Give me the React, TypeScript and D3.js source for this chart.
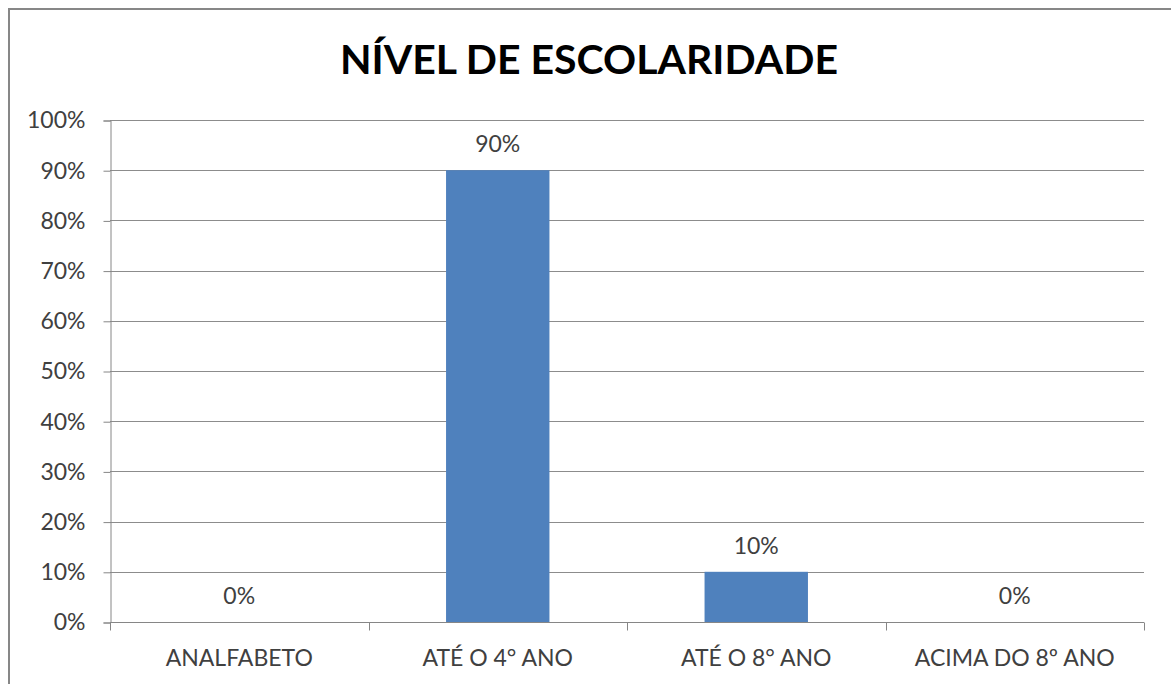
import React, { useEffect, useRef } from 'react';
import * as d3 from 'd3';

const categories = ['ANALFABETO', 'ATÉ O 4° ANO', 'ATÉ O 8° ANO', 'ACIMA DO 8º ANO'];
const values = [0, 90, 10, 0];
const yTicks = [0, 10, 20, 30, 40, 50, 60, 70, 80, 90, 100];
const title = 'NÍVEL DE ESCOLARIDADE';

export default function App() {
  const ref = useRef<SVGSVGElement>(null);

  useEffect(() => {
    const width = 1171;
    const height = 684;
    const plot = { left: 110, right: 1144, top: 120, bottom: 622 };
    const font = 'Lato, "Open Sans", sans-serif';

    const svg = d3.select(ref.current);
    svg.selectAll('*').remove();

    svg.append('rect')
      .attr('width', width)
      .attr('height', height)
      .attr('fill', '#fff');

    // chart border (only top and left visible)
    svg.append('path')
      .attr('d', `M9,${height} L9,9 L${width},9`)
      .attr('fill', 'none')
      .attr('stroke', '#878787')
      .attr('stroke-width', 2);

    const x = d3.scaleBand<string>().domain(categories).range([plot.left, plot.right]);
    const y = d3.scaleLinear().domain([0, 100]).range([plot.bottom, plot.top]);

    // gridlines
    svg.append('g')
      .selectAll('line')
      .data(yTicks.filter((d) => d > 0))
      .enter().append('line')
      .attr('x1', plot.left)
      .attr('x2', plot.right)
      .attr('y1', (d) => Math.round(y(d)) + 0.5)
      .attr('y2', (d) => Math.round(y(d)) + 0.5)
      .attr('stroke', '#8c8c8c')
      .attr('stroke-width', 1);

    // bars
    const barW = x.bandwidth() * 0.4;
    svg.append('g')
      .selectAll('rect')
      .data(values)
      .enter().append('rect')
      .attr('x', (d, i) => x(categories[i])! + (x.bandwidth() - barW) / 2)
      .attr('y', (d) => y(d))
      .attr('width', barW)
      .attr('height', (d) => y(0) - y(d))
      .attr('fill', '#4f81bd');

    // value labels
    svg.append('g')
      .selectAll('text')
      .data(values)
      .enter().append('text')
      .attr('x', (d, i) => x(categories[i])! + x.bandwidth() / 2)
      .attr('y', (d) => y(d) - 18)
      .attr('text-anchor', 'middle')
      .attr('font-family', font)
      .attr('font-size', 23)
      .attr('fill', '#404040')
      .text((d) => d + '%');

    // y axis
    const yAxis = d3.axisLeft(y).tickValues(yTicks).tickSize(7).tickPadding(18).tickFormat((d) => d + '%');
    const gy = svg.append('g')
      .attr('transform', `translate(${plot.left + 0.5},0.5)`)
      .call(yAxis);
    gy.select('.domain').attr('stroke', '#868686');
    gy.selectAll('.tick line').attr('stroke', '#868686');
    gy.selectAll('.tick text')
      .attr('font-family', font)
      .attr('font-size', 23)
      .attr('fill', '#404040');

    // x axis
    const xAxis = d3.axisBottom(x).tickSize(0).tickPadding(27);
    const gx = svg.append('g')
      .attr('transform', `translate(0,${plot.bottom + 0.5})`)
      .call(xAxis);
    gx.select('.domain').attr('d', `M${plot.left},0H${plot.right}`).attr('stroke', '#868686');
    gx.selectAll('.tick text')
      .attr('font-family', font)
      .attr('font-size', 23)
      .attr('fill', '#404040');
    gx.append('g')
      .selectAll('line')
      .data(categories.map((c) => x(c)! + x.bandwidth()).concat([plot.left]))
      .enter().append('line')
      .attr('x1', (d) => Math.round(d) + 0.5)
      .attr('x2', (d) => Math.round(d) + 0.5)
      .attr('y1', 0)
      .attr('y2', 8)
      .attr('stroke', '#868686');

    svg.append('text')
      .attr('x', 589)
      .attr('y', 74)
      .attr('text-anchor', 'middle')
      .attr('font-family', font)
      .attr('font-weight', 'bold')
      .attr('font-size', 41)
      .attr('fill', '#000')
      .text(title);
  }, []);

  return (
    <svg
      ref={ref}
      width={1171}
      height={684}
      style={{ position: 'absolute', left: 0, top: 0, display: 'block' }}
    />
  );
}
